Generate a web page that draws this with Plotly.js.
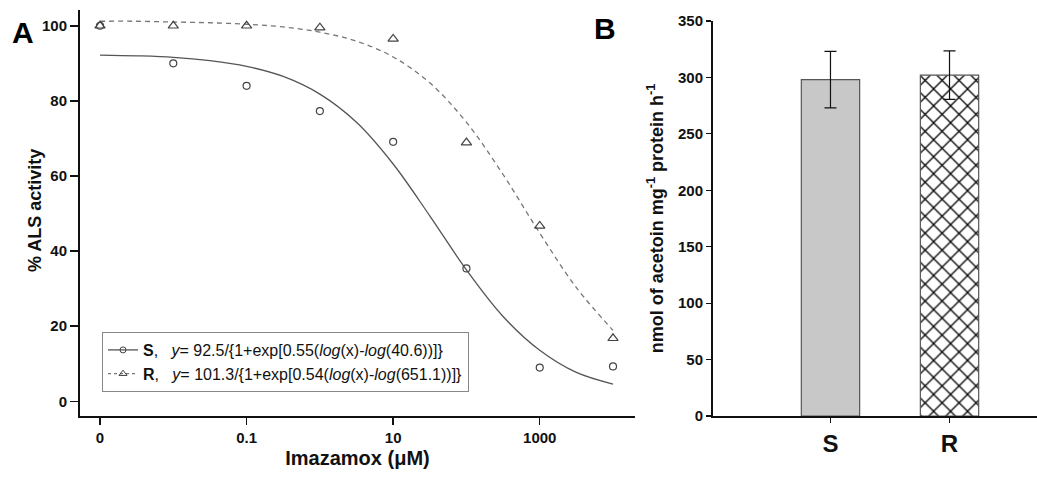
<!DOCTYPE html>
<html>
<head>
<meta charset="utf-8">
<script src="https://cdn.plot.ly/plotly-3.0.1.min.js"></script>
<style>html,body{margin:0;padding:0;background:#fff;}#chart{width:1037px;height:477px;}</style>
</head>
<body>
<div id="chart"></div>
<script>
// ---- Panel A data ----
const doses = [0.001, 0.01, 0.1, 1, 10, 100, 1000, 10000];
const sActivity = [100, 90.0, 84.0, 77.3, 69.1, 35.4, 9.0, 9.3];
const rActivity = [100, 100, 100, 99.5, 96.5, 68.9, 46.7, 16.8];
// fitted curves
const curveDoses = [0.001, 0.00316, 0.01, 0.0316, 0.1, 0.316, 1, 3.16, 10, 31.6, 100, 316, 1000, 3162, 10000];
const sCurve = [92.2, 92.0, 91.6, 90.7, 89.2, 86.5, 81.8, 74.3, 63.2, 49.4, 35.0, 22.6, 13.6, 7.7, 4.6];
const rCurve = [101.2, 101.2, 101.0, 100.8, 100.4, 99.7, 98.3, 95.9, 91.7, 84.8, 74.3, 60.4, 44.8, 30.3, 18.9];
const xTickVals = [0.001, 0.1, 10, 1000];
const xTickText = ['0', '0.1', '10', '1000'];
const sLegend = '<b>S</b>,   <i>y</i>= 92.5/{1+exp[0.55(<i>log</i>(x)-<i>log</i>(40.6))]}';
const rLegend = '<b>R</b>,   <i>y</i>= 101.3/{1+exp[0.54(<i>log</i>(x)-<i>log</i>(651.1))]}';

// ---- Panel B data ----
const biotypes = ['S', 'R'];
const alsValues = [298, 302];
const alsErrors = [25, 21.5];

const W = 1037, H = 477;
const px = v => v / W;
const py = v => (H - v) / H;
const FONT = 'Liberation Sans, Arial, sans-serif';

const errStyle = {type: 'data', visible: true, color: '#111', thickness: 1.2, width: 6};

const traces = [
  {x: curveDoses, y: sCurve, type: 'scatter', mode: 'lines', line: {color: '#555', width: 1.3, shape: 'spline'}, showlegend: false, xaxis: 'x', yaxis: 'y', hoverinfo: 'skip'},
  {x: curveDoses, y: rCurve, type: 'scatter', mode: 'lines', line: {color: '#777', width: 1.3, dash: '5px,4px', shape: 'spline'}, showlegend: false, xaxis: 'x', yaxis: 'y', hoverinfo: 'skip'},
  {x: doses, y: rActivity, type: 'scatter', mode: 'markers', marker: {symbol: 'triangle-up-open', size: 9, color: '#444', line: {width: 1.2, color: '#444'}}, showlegend: false, xaxis: 'x', yaxis: 'y'},
  {x: doses, y: sActivity, type: 'scatter', mode: 'markers', marker: {symbol: 'circle-open', size: 7, color: '#444', line: {width: 1.2, color: '#444'}}, showlegend: false, xaxis: 'x', yaxis: 'y'},
  {x: [null], y: [null], type: 'scatter', mode: 'lines+markers', name: sLegend, line: {color: '#555', width: 1.3}, marker: {symbol: 'circle-open', size: 6, color: '#444'}, xaxis: 'x', yaxis: 'y'},
  {x: [null], y: [null], type: 'scatter', mode: 'lines+markers', name: rLegend, line: {color: '#777', width: 1.3, dash: '3px,3px'}, marker: {symbol: 'triangle-up-open', size: 7, color: '#444'}, xaxis: 'x', yaxis: 'y'},
  {x: [biotypes[0]], y: [alsValues[0]], type: 'bar', width: 0.49, xaxis: 'x2', yaxis: 'y2', showlegend: false,
   error_y: Object.assign({array: [alsErrors[0]]}, errStyle),
   marker: {color: '#c8c8c8', line: {color: '#555', width: 1.2}}},
  {x: [biotypes[1]], y: [alsValues[1]], type: 'bar', width: 0.49, xaxis: 'x2', yaxis: 'y2', showlegend: false,
   error_y: Object.assign({array: [alsErrors[1]]}, errStyle),
   marker: {color: '#ffffff', line: {color: '#555', width: 1.2},
            pattern: {shape: 'x', fgcolor: '#000', bgcolor: '#ffffff', size: 12, solidity: 0.2, fillmode: 'replace'}}}
];

const layout = {
  width: W, height: H,
  margin: {l: 0, r: 0, t: 0, b: 0},
  paper_bgcolor: '#ffffff', plot_bgcolor: 'rgba(0,0,0,0)',
  font: {family: FONT, color: '#111'},
  barmode: 'overlay',
  showlegend: true,
  legend: {x: px(102), y: py(332), xanchor: 'left', yanchor: 'top', bordercolor: '#888', borderwidth: 1,
           bgcolor: '#fff', font: {family: FONT, size: 16, color: '#111'}, tracegroupgap: 4, itemwidth: 30},
  xaxis: {domain: [px(80), px(635)], type: 'log', range: [-3.273, 4.30], tickvals: xTickVals, ticktext: xTickText,
          showline: true, linecolor: '#111', linewidth: 2, ticks: 'outside', ticklen: 7, tickwidth: 1.5, tickcolor: '#111',
          showgrid: false, zeroline: false, tickfont: {family: FONT, size: 15, color: '#111', weight: 'bold'},
          title: {text: '<b>Imazamox (μM)</b>', font: {family: FONT, size: 20, color: '#111'}, standoff: 6},
          anchor: 'y', automargin: false},
  yaxis: {domain: [1 - 416 / H, 1 - 10 / H], range: [-3.9, 104.2], tickvals: [0, 20, 40, 60, 80, 100],
          showline: true, linecolor: '#111', linewidth: 2, ticks: 'outside', ticklen: 8, tickwidth: 1.5, tickcolor: '#111',
          showgrid: false, zeroline: false, tickfont: {family: FONT, size: 15, color: '#111', weight: 'bold'},
          anchor: 'x', automargin: false},
  xaxis2: {domain: [px(713), 1], range: [-0.987, 1.735], type: 'category',
           showline: true, linecolor: '#111', linewidth: 2, ticks: 'outside', ticklen: 5, tickwidth: 1.2, tickcolor: '#111',
           showgrid: false, zeroline: false, tickfont: {family: FONT, size: 24, color: '#111', weight: 'bold'},
           anchor: 'y2', automargin: false},
  yaxis2: {domain: [1 - 416 / H, 1 - 21 / H], range: [0, 350], dtick: 50,
           showline: true, linecolor: '#111', linewidth: 2, ticks: 'outside', ticklen: 5, tickwidth: 1.2, tickcolor: '#111',
           showgrid: false, zeroline: false, tickfont: {family: FONT, size: 15, color: '#111', weight: 'bold'},
           title: {text: '<b>nmol of acetoin mg<sup>-1</sup> protein h<sup>-1</sup></b>', font: {family: FONT, size: 18, color: '#111'}, standoff: 10},
           anchor: 'x2', automargin: false},
  annotations: [
    {text: '<b>A</b>', x: px(22.5), y: py(32.5), xref: 'paper', yref: 'paper', showarrow: false, xanchor: 'center', yanchor: 'middle', font: {family: FONT, size: 30, color: '#000'}},
    {text: '<b>B</b>', x: px(605), y: py(29), xref: 'paper', yref: 'paper', showarrow: false, xanchor: 'center', yanchor: 'middle', font: {family: FONT, size: 30, color: '#000'}},
    {text: '<b>% ALS activity</b>', x: px(35), y: py(211), xref: 'paper', yref: 'paper', showarrow: false, textangle: -90, xanchor: 'center', yanchor: 'middle', font: {family: FONT, size: 18, color: '#111'}}
  ]
};

Plotly.newPlot('chart', traces, layout, {displayModeBar: false, staticPlot: true});
</script>
</body>
</html>
